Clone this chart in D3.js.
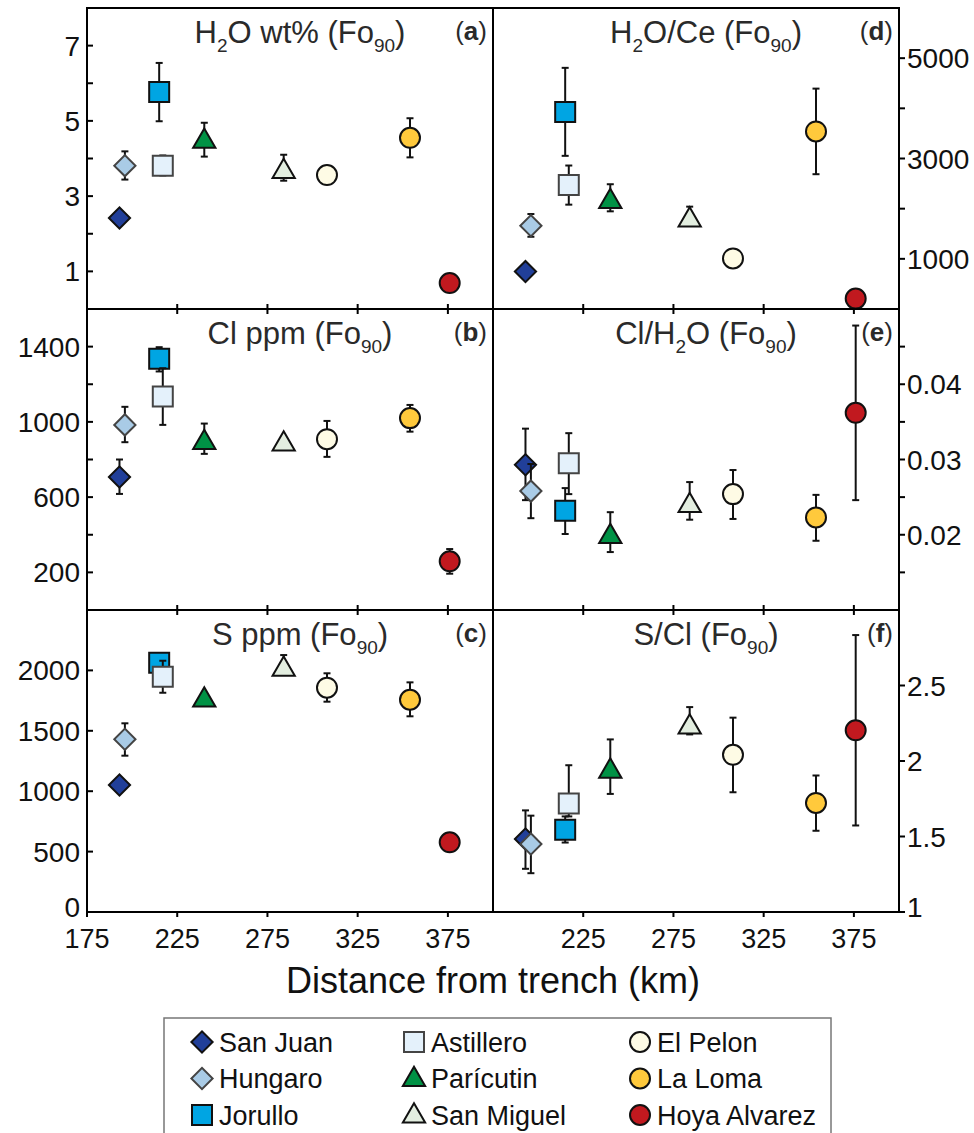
<!DOCTYPE html>
<html><head><meta charset="utf-8">
<script src="https://cdn.jsdelivr.net/npm/d3@7"></script>
<style>body{margin:0;background:#fff}</style>
</head><body><svg id="c" width="974" height="1133"></svg>
<script>
// ---------- DATA ----------
const volcanoes = ["San Juan","Hungaro","Jorullo","Astillero","Parícutin","San Miguel","El Pelon","La Loma","Hoya Alvarez"];
const distanceKm = [193,196,215,217,240,284,308,354,376];
const xTicksLeft = [175,225,275,325,375];
const xTicksRight = [225,275,325,375];

const h2oVal = [2.42,3.81,5.77,3.81,4.48,3.68,3.56,4.55,0.69];
const h2oLo  = [null,3.44,4.99,3.55,4.05,3.41,null,4.03,null];
const h2oHi  = [null,4.19,6.54,4.08,4.95,4.10,null,5.07,null];

const clVal = [707,984,1335,1135,895,887,908,1020,259];
const clLo  = [617,892,1268,984,830,null,814,948,193];
const clHi  = [800,1080,1397,1285,991,null,1005,1090,324];

const sVal = [1051,1430,2064,1948,1763,2017,1857,1757,577];
const sLo  = [null,1294,null,1815,null,null,1741,1620,null];
const sHi  = [null,1562,null,2080,null,2127,1976,1901,null];

const h2oCeVal = [746,1660,3927,2473,2160,1793,1007,3540,207];
const h2oCeLo  = [null,1440,3053,2080,1947,null,null,2687,null];
const h2oCeHi  = [null,1893,4807,2860,2487,2040,null,4393,null];

const clH2oVal = [0.0293,0.0258,0.0232,0.0295,0.0199,0.0240,0.0254,0.0223,0.0362];
const clH2oLo  = [0.0246,0.0222,0.0201,0.0254,0.0177,0.0220,0.0221,0.0192,0.0246];
const clH2oHi  = [0.0341,0.0294,0.0262,0.0335,0.0230,0.0270,0.0286,0.0253,0.0478];

const sClVal = [1.483,1.450,1.545,1.718,1.939,2.231,2.041,1.722,2.203];
const sClLo  = [1.286,1.257,1.460,1.633,1.782,2.176,1.793,1.538,1.573];
const sClHi  = [1.673,1.638,1.633,1.972,2.143,2.357,2.287,1.904,2.834];

// ticks
const aMajor=[1,3,5,7], aMinor=[2,4,6];
const bMajor=[200,600,1000,1400], bMinor=[400,800,1200];
const cMajor=[0,500,1000,1500,2000], cMinor=[];
const dMajor=[1000,3000,5000], dMinor=[2000,4000];
const eMajor=[0.02,0.03,0.04], eMinor=[0.015,0.025,0.035,0.045];
const fMajor=[1,1.5,2,2.5], fMinor=[];

// styles
const fills   = ["#213f99","#a9cbe6","#00a5e3","#e4f1fb","#009245","#e3eee0","#fefbe5","#ffc93c","#c1191f"];
const strokes = ["#111","#444","#111","#444","#111","#111","#111","#111","#111"];
const shapes  = ["diamond","diamond","square","square","triangle","triangle","circle","circle","circle"];

// ---------- LAYOUT ----------
const svg = d3.select("#c");
const FONT = "'Liberation Sans', Arial, Helvetica, sans-serif";
const L = 87, M = 493, R = 899;
const rows = [[8,309],[309,610],[610,912]];

const panels = [
 {col:0,row:0,val:h2oVal,lo:h2oLo,hi:h2oHi,dom:[0,8],major:aMajor,minor:aMinor,title:["H","2","O wt% (Fo","90",")"],lab:"a",fmt:d=>d},
 {col:0,row:1,val:clVal,lo:clLo,hi:clHi,dom:[0,1600],major:bMajor,minor:bMinor,title:["Cl ppm (Fo","90",")"],lab:"b",fmt:d=>d},
 {col:0,row:2,val:sVal,lo:sLo,hi:sHi,dom:[0,2500],major:cMajor,minor:cMinor,title:["S ppm (Fo","90",")"],lab:"c",fmt:d=>d},
 {col:1,row:0,val:h2oCeVal,lo:h2oCeLo,hi:h2oCeHi,dom:[0,6000],major:dMajor,minor:dMinor,title:["H","2","O/Ce (Fo","90",")"],lab:"d",fmt:d=>d},
 {col:1,row:1,val:clH2oVal,lo:clH2oLo,hi:clH2oHi,dom:[0.01,0.05],major:eMajor,minor:eMinor,title:["Cl/H","2","O (Fo","90",")"],lab:"e",fmt:d=>d.toFixed(2)},
 {col:1,row:2,val:sClVal,lo:sClLo,hi:sClHi,dom:[1,3],major:fMajor,minor:fMinor,title:["S/Cl (Fo","90",")"],lab:"f",fmt:d=>String(d)},
];

function symbolPath(shape){
  if(shape==="diamond") return d3.symbol(d3.symbolSquare, 225)();
  if(shape==="square") return d3.symbol(d3.symbolSquare, 400)();
  if(shape==="triangle") return d3.symbol(d3.symbolTriangle, 215)();
  return d3.symbol(d3.symbolCircle, 314)();
}
function symbolTransform(shape,x,y){
  return shape==="diamond" ? `translate(${x},${y}) rotate(45)` : (shape==="triangle" ? `translate(${x},${y+1})` : `translate(${x},${y})`);
}

panels.forEach(p=>{
  const x0 = p.col===0?L:M, x1 = p.col===0?M:R;
  const [y0,y1] = rows[p.row];
  const x = d3.scaleLinear().domain([175,400]).range([x0,x1]);
  const y = d3.scaleLinear().domain(p.dom).range([y1,y0]);
  const g = svg.append("g");

  // y-axis ticks + labels
  const ax = p.col===0 ? x0 : x1;
  p.major.forEach(t=>{
    g.append("line").attr("x1",ax).attr("x2",ax+6).attr("y1",y(t)).attr("y2",y(t)).attr("stroke","#000").attr("stroke-width",2);
    const atBottom = Math.abs(y(t)-y1) < 1;
    g.append("text").attr("x", p.col===0 ? ax-7 : ax+8).attr("y",y(t)).attr("dy", atBottom ? "0.18em" : "0.36em")
     .attr("text-anchor", p.col===0?"end":"start").attr("font-family",FONT).attr("font-size",28).attr("fill","#111")
     .text(p.fmt(t));
  });
  p.minor.forEach(t=>{
    g.append("line").attr("x1",ax).attr("x2",ax+6).attr("y1",y(t)).attr("y2",y(t)).attr("stroke","#000").attr("stroke-width",2);
  });
  const xt = p.col===0 ? xTicksLeft : xTicksRight;
  xt.forEach(t=>{
    if(p.row>0) g.append("line").attr("x1",x(t)).attr("x2",x(t)).attr("y1",y0).attr("y2",y0+5).attr("stroke","#000").attr("stroke-width",2);
    if(p.row<2) g.append("line").attr("x1",x(t)).attr("x2",x(t)).attr("y1",y1).attr("y2",y1-5).attr("stroke","#000").attr("stroke-width",2);
    else {
      g.append("line").attr("x1",x(t)).attr("x2",x(t)).attr("y1",y1).attr("y2",y1+5).attr("stroke","#000").attr("stroke-width",2);
      g.append("text").attr("x",x(t)).attr("y",948).attr("text-anchor","middle").attr("font-family",FONT).attr("font-size",27).attr("fill","#111").text(t);
    }
  });

  // title
  const tx = (x0+x1)/2 + 10, ty = y0+35;
  const tt = g.append("text").attr("x",tx).attr("y",ty).attr("text-anchor","middle")
    .attr("font-family",FONT).attr("font-size",31).attr("fill","#2a2a2a");
  let sub=false;
  p.title.forEach(s=>{
    const isSub = /^\d+$/.test(s);
    const ts = tt.append("tspan").text(s);
    if(isSub){ ts.attr("font-size",19).attr("dy",9); sub=true; }
    else if(sub){ ts.attr("dy",-9); sub=false; }
  });
  // panel label
  const lt = g.append("text").attr("x",x1-6).attr("y",y0+32).attr("text-anchor","end")
    .attr("font-family",FONT).attr("font-size",26).attr("fill","#2a2a2a");
  lt.append("tspan").text("(");
  lt.append("tspan").attr("font-weight","bold").text(p.lab);
  lt.append("tspan").text(")");

  // points with error bars
  volcanoes.forEach((v,i)=>{
    const cx = x(distanceKm[i]);
    if(p.lo[i]!=null || p.hi[i]!=null){
      const lo = p.lo[i]!=null ? p.lo[i] : p.val[i];
      const hi = p.hi[i]!=null ? p.hi[i] : p.val[i];
      g.append("line").attr("x1",cx).attr("x2",cx).attr("y1",y(lo)).attr("y2",y(hi)).attr("stroke","#111").attr("stroke-width",2);
      if(p.lo[i]!=null) g.append("line").attr("x1",cx-3.5).attr("x2",cx+3.5).attr("y1",y(lo)).attr("y2",y(lo)).attr("stroke","#111").attr("stroke-width",2);
      if(p.hi[i]!=null) g.append("line").attr("x1",cx-3.5).attr("x2",cx+3.5).attr("y1",y(hi)).attr("y2",y(hi)).attr("stroke","#111").attr("stroke-width",2);
    }
    g.append("path").attr("d",symbolPath(shapes[i])).attr("transform",symbolTransform(shapes[i],cx,y(p.val[i])))
      .attr("fill",fills[i]).attr("stroke",strokes[i]).attr("stroke-width",2);
  });
});

// frame lines
const frame = svg.append("g").attr("stroke","#000").attr("stroke-width",2).attr("fill","none");
frame.append("rect").attr("x",L).attr("y",rows[0][0]).attr("width",R-L).attr("height",rows[2][1]-rows[0][0]);
frame.append("line").attr("x1",M).attr("x2",M).attr("y1",rows[0][0]).attr("y2",rows[2][1]);
frame.append("line").attr("x1",L).attr("x2",R).attr("y1",rows[1][0]).attr("y2",rows[1][0]);
frame.append("line").attr("x1",L).attr("x2",R).attr("y1",rows[2][0]).attr("y2",rows[2][0]);

// axis title
svg.append("text").attr("x",493).attr("y",993).attr("text-anchor","middle").attr("font-family",FONT)
  .attr("font-size",36).attr("fill","#111").text("Distance from trench (km)");

// legend
svg.append("rect").attr("x",164).attr("y",1018).attr("width",667).attr("height",140)
  .attr("fill","none").attr("stroke","#777").attr("stroke-width",1.5);
const legCols = [202,414,640];
volcanoes.forEach((v,i)=>{
  const c = Math.floor(i/3), r = i%3;
  const lx = legCols[c], ly = 1042 + r*36.5;
  svg.append("path").attr("d",symbolPath(shapes[i])).attr("transform",symbolTransform(shapes[i],lx,ly))
    .attr("fill",fills[i]).attr("stroke",strokes[i]).attr("stroke-width",2);
  svg.append("text").attr("x",lx+17).attr("y",ly).attr("dy","0.36em").attr("font-family",FONT)
    .attr("font-size",27).attr("fill","#111").text(v);
});
</script></body></html>
